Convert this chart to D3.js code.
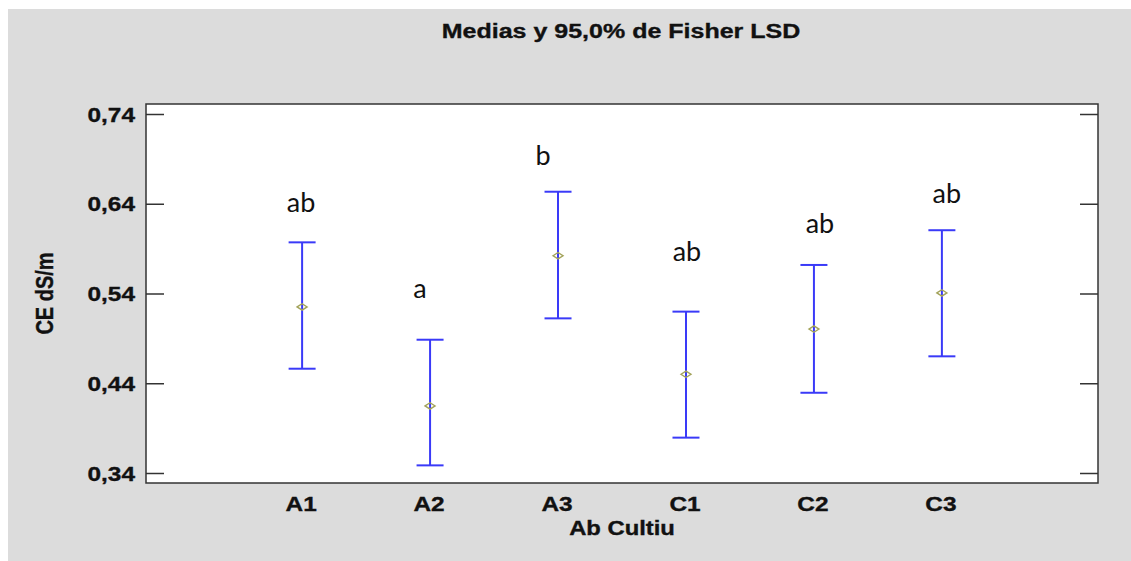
<!DOCTYPE html>
<html>
<head>
<meta charset="utf-8">
<script src="https://cdn.jsdelivr.net/npm/d3@7"></script>
<style>
  html, body { margin: 0; padding: 0; background: #ffffff; overflow: hidden; }
  svg { display: block; }
</style>
</head>
<body>
<svg id="chart" width="1131" height="561"></svg>
<script>
// Group means of CE (dS/m) with 95% Fisher LSD intervals
const categories = ["A1", "A2", "A3", "C1", "C2", "C3"];
const means       = [0.525, 0.4147, 0.5821, 0.4500, 0.5004, 0.5406];
const lowerLimits = [0.4562, 0.3485, 0.5123, 0.3794, 0.4294, 0.4700];
const upperLimits = [0.5970, 0.4885, 0.6534, 0.5198, 0.5718, 0.6105];
// homogeneous-group letters and the level (in dS/m) they sit at
const groupLetters = ["ab", "a", "b", "ab", "ab", "ab"];
const letterLevels = [0.6308, 0.5350, 0.6832, 0.5765, 0.6071, 0.6405];
const yTicks = [0.34, 0.44, 0.54, 0.64, 0.74];

const titleText = "Medias y 95,0% de Fisher LSD";
const xTitle = "Ab Cultiu";
const yTitle = "CE dS/m";

const svg = d3.select("#chart");
const W = 1131, H = 561;
const frame = { left: 146, right: 1098, top: 104, bottom: 483 };
const stretch = 1.22;              // wide statistical-graphics lettering
const boldFont = "'Liberation Sans', Arial, sans-serif";

// panel background
svg.append("rect").attr("x", 8).attr("y", 9).attr("width", W - 8).attr("height", H - 9)
  .attr("fill", "#dcdcdc");
svg.append("rect").attr("x", frame.left).attr("y", frame.top)
  .attr("width", frame.right - frame.left).attr("height", frame.bottom - frame.top)
  .attr("fill", "#ffffff");

const x = d3.scalePoint().domain(categories).range([frame.left, frame.right]).padding(1.22);
const y = d3.scaleLinear().domain([0.34, 0.74]).range([473, 114]);

const locale = d3.formatLocale({ decimal: ",", thousands: ".", grouping: [3], currency: ["", "€"] });
const fmt = locale.format(".2f");

function wideText(sel, px, py, anchor, size, rotate) {
  return sel.append("text")
    .attr("text-anchor", anchor)
    .attr("font-family", boldFont)
    .attr("font-weight", "bold")
    .attr("font-size", size)
    .attr("fill", "#111")
    .attr("stroke", "#111")
    .attr("stroke-width", 0.35)
    .attr("transform", `translate(${px},${py}) scale(${stretch},1)` + (rotate ? ` rotate(${rotate})` : ""));
}

// title
wideText(svg, 621, 38, "middle", 20.5).text(titleText);

// y axis (left), ticks pointing inward
const yAxisL = d3.axisLeft(y).tickValues(yTicks).tickSize(-18).tickFormat("");
const gL = svg.append("g").attr("transform", `translate(${frame.left},0)`).call(yAxisL);
gL.select(".domain").remove();
gL.selectAll(".tick line").attr("stroke", "#333").attr("stroke-width", 1.5);

const yAxisR = d3.axisRight(y).tickValues(yTicks).tickSize(-18).tickFormat("");
const gR = svg.append("g").attr("transform", `translate(${frame.right},0)`).call(yAxisR);
gR.select(".domain").remove();
gR.selectAll(".tick line").attr("stroke", "#333").attr("stroke-width", 1.5);

// y tick labels
yTicks.forEach(v => {
  wideText(svg, 135, y(v) + 7.5, "end", 20).text(fmt(v));
});

// x tick labels
categories.forEach(c => {
  wideText(svg, x(c) - 1, 510.5, "middle", 20).text(c);
});

// axis titles
wideText(svg, 622, 535, "middle", 19.5).text(xTitle);
wideText(svg, 53, (frame.top + frame.bottom) / 2, "middle", 20, -90).text(yTitle);

// plot frame
svg.append("rect").attr("x", frame.left).attr("y", frame.top)
  .attr("width", frame.right - frame.left).attr("height", frame.bottom - frame.top)
  .attr("fill", "none").attr("stroke", "#333").attr("stroke-width", 1.5);

// LSD intervals
const rows = categories.map((c, i) => ({
  cat: c, mean: means[i], lo: lowerLimits[i], hi: upperLimits[i],
  letter: groupLetters[i], level: letterLevels[i]
}));
const capHalf = 13.5;
const barColor = "#3a3af8";

const bars = svg.append("g").selectAll("g").data(rows).join("g");
bars.append("line")
  .attr("x1", d => x(d.cat)).attr("x2", d => x(d.cat))
  .attr("y1", d => y(d.hi)).attr("y2", d => y(d.lo))
  .attr("stroke", barColor).attr("stroke-width", 2);
bars.append("line")
  .attr("x1", d => x(d.cat) - capHalf).attr("x2", d => x(d.cat) + capHalf)
  .attr("y1", d => y(d.hi)).attr("y2", d => y(d.hi))
  .attr("stroke", barColor).attr("stroke-width", 2);
bars.append("line")
  .attr("x1", d => x(d.cat) - capHalf).attr("x2", d => x(d.cat) + capHalf)
  .attr("y1", d => y(d.lo)).attr("y2", d => y(d.lo))
  .attr("stroke", barColor).attr("stroke-width", 2);

// mean markers: small hollow diamonds
bars.append("path")
  .attr("d", d => {
    const cx = x(d.cat), cy = y(d.mean);
    return `M${cx - 5},${cy} L${cx},${cy - 3.2} L${cx + 5},${cy} L${cx},${cy + 3.2} Z`;
  })
  .attr("fill", "none").attr("stroke", "#a3a35a").attr("stroke-width", 1.4);

// group letters
const letterNudge = { A1: -1, A2: -10, A3: -15, C1: 1, C2: 6, C3: 5 };
bars.append("text")
  .attr("x", d => x(d.cat) + letterNudge[d.cat])
  .attr("y", d => y(d.level))
  .attr("text-anchor", "middle")
  .attr("font-family", "Lato, 'Open Sans', sans-serif")
  .attr("font-size", 27)
  .attr("fill", "#111")
  .text(d => d.letter);
</script>
</body>
</html>
